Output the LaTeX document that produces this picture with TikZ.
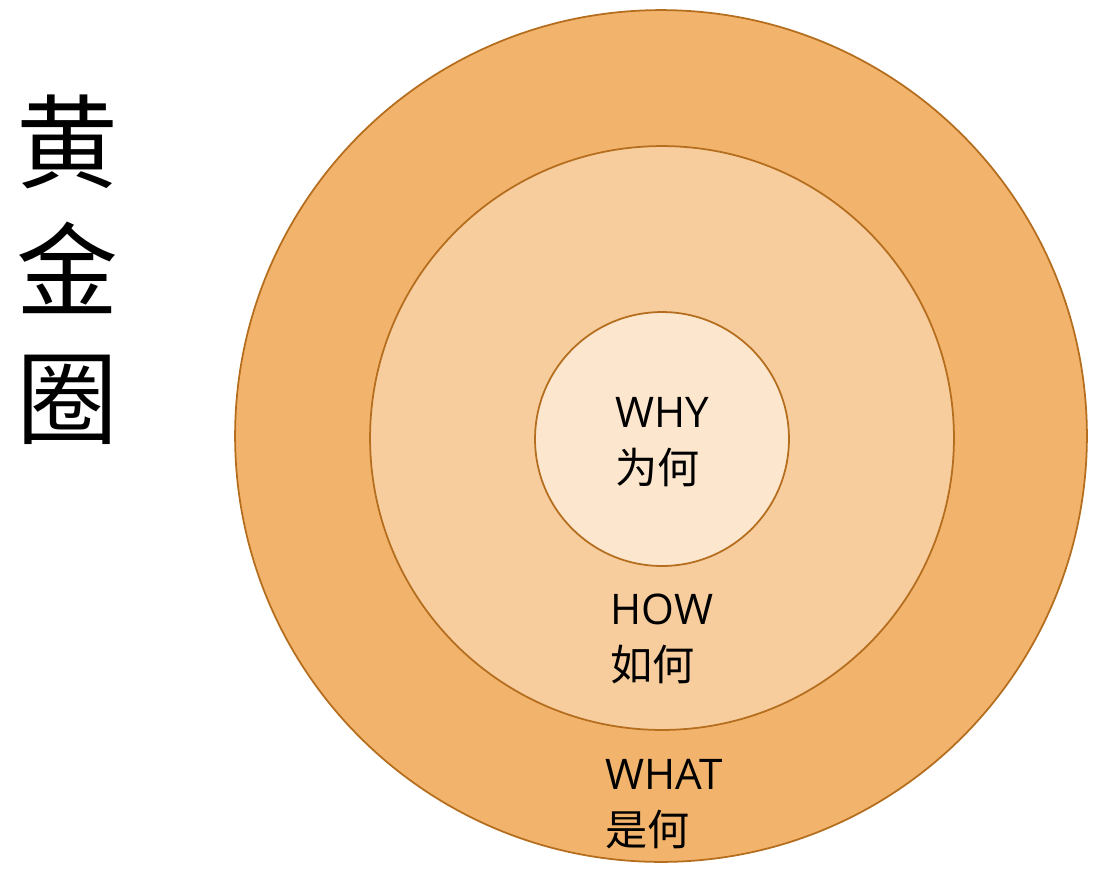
\documentclass[tikz,border=0pt]{standalone}
\usepackage{fontspec}
\setmainfont{Open Sans}
\newfontfamily\cjk{Noto Sans CJK SC}
\usepackage{tikz}
\usetikzlibrary{positioning}

\definecolor{whatfill}{HTML}{F2B46C}
\definecolor{howfill}{HTML}{F7CD9D}
\definecolor{whyfill}{HTML}{FCE6CD}
\definecolor{ringedge}{HTML}{B56D1E}

\begin{document}
\begin{tikzpicture}[
    x = .02cm,
    y = -.02cm,
    ring/.style = {
      circle,
      draw=ringedge,
      line width=1pt,
      inner sep=0pt,
      outer sep=0pt
    },
    layer/.style = {
      align=left,
      font=\fontsize{24}{32}\selectfont,
      inner sep=0pt
    },
    title/.style = {
      align=center,
      font=\cjk\fontsize{58}{72.8}\selectfont,
      inner sep=0pt
    }
  ]
    \useasboundingbox (0,0) rectangle (1095,870);

    \node[ring, fill=whatfill, minimum size=17.04cm] (what) at (661,436) {};
    \node[ring, fill=howfill, minimum size=11.68cm] (how) at (662,438) {};
    \node[ring, fill=whyfill, minimum size=5.08cm] (why) at (662,439) {};

    \node[layer] (whylabel) at (662,442) {WHY\\{\cjk 为何}};
    \node[layer] (howlabel) at (662,639) {HOW\\{\cjk 如何}};
    \node[layer] (whatlabel) at (664,804) {WHAT\\{\cjk 是何}};

    \node[title] (golden) at (67,270) {黄\\金\\圈};

  \end{tikzpicture}
\end{document}
